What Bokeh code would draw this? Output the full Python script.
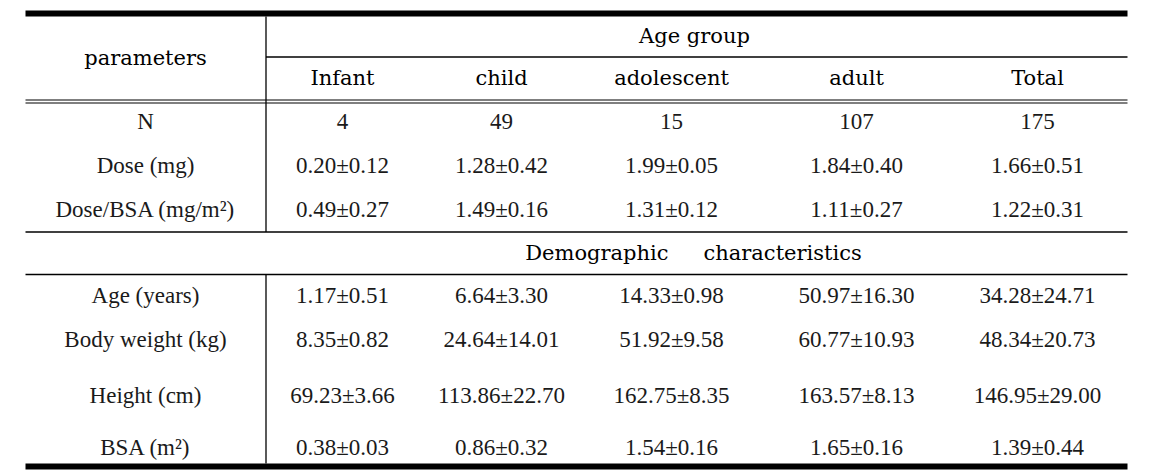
from bokeh.plotting import figure
from bokeh.models import Range1d, ColumnDataSource
from bokeh.core.properties import value
from bokeh.embed import file_html
from bokeh.resources import INLINE

# ---------------- data ----------------
title_params = "parameters"
title_groups = "Age group"
title_demo = ["Demographic", "characteristics"]
groups = ["Infant", "child", "adolescent", "adult", "Total"]

dose_labels = ["N", "Dose (mg)", "Dose/BSA (mg/m\u00b2)"]
n_counts = [4, 49, 15, 107, 175]
dose_mean = [0.20, 1.28, 1.99, 1.84, 1.66]
dose_sd = [0.12, 0.42, 0.05, 0.40, 0.51]
dose_bsa_mean = [0.49, 1.49, 1.31, 1.11, 1.22]
dose_bsa_sd = [0.27, 0.16, 0.12, 0.27, 0.31]

demo_labels = ["Age (years)", "Body weight (kg)", "Height (cm)", "BSA (m\u00b2)"]
age_mean = [1.17, 6.64, 14.33, 50.97, 34.28]
age_sd = [0.51, 3.30, 0.98, 16.30, 24.71]
weight_mean = [8.35, 24.64, 51.92, 60.77, 48.34]
weight_sd = [0.82, 14.01, 9.58, 10.93, 20.73]
height_mean = [69.23, 113.86, 162.75, 163.57, 146.95]
height_sd = [3.66, 22.70, 8.35, 8.13, 29.00]
bsa_mean = [0.38, 0.86, 1.54, 1.65, 1.39]
bsa_sd = [0.03, 0.32, 0.16, 0.16, 0.44]


def fmt(means, sds):
    return [f"{m:.2f}\u00b1{s:.2f}" for m, s in zip(means, sds)]


dose_rows = [[str(n) for n in n_counts], fmt(dose_mean, dose_sd), fmt(dose_bsa_mean, dose_bsa_sd)]
demo_rows = [fmt(age_mean, age_sd), fmt(weight_mean, weight_sd),
             fmt(height_mean, height_sd), fmt(bsa_mean, bsa_sd)]

# ---------------- layout (pixel coordinates) ----------------
W, H = 1139, 471
left, right, vsep = 25, 1127, 265.5
label_x = 145
col_x = [342, 501, 671, 856, 1037]
center_x = 694
demo_gap = (668, 703)
dy = -8  # renderer places alphabetic baseline lower than requested
dose_base = [b + dy for b in (129, 173, 217)]
demo_base = [b + dy for b in (303, 347, 403, 455)]
y_params, y_groups_title, y_groups, y_demo = 65 + dy, 43 + dy, 85 + dy, 260 + dy

p = figure(width=W, height=H, output_backend="svg", toolbar_location=None,
           x_range=Range1d(0, W), y_range=Range1d(H, 0),
           x_axis_type=None, y_axis_type=None, min_border=0)
p.outline_line_color = None
p.xgrid.visible = False
p.ygrid.visible = False
p.background_fill_color = "white"
p.border_fill_color = "white"

# rules
hl = ColumnDataSource(dict(
    x0=[left, vsep, left, left, left, left, left],
    x1=[right, right, right, right, right, right, right],
    y=[13, 56.5, 99.5, 102.5, 231.5, 274, 466],
    w=[6, 1.3, 1.2, 1.2, 1.3, 1.3, 6],
))
p.segment(x0="x0", y0="y", x1="x1", y1="y", line_width="w", line_color="black", source=hl)
vl = ColumnDataSource(dict(x=[vsep, vsep], y0=[16, 274], y1=[231.5, 463]))
p.segment(x0="x", y0="y0", x1="x", y1="y1", line_width=1.3, line_color="black", source=vl)

head_font = value("DejaVu Serif")
data_font = value("Liberation Serif")
hkw = dict(text_font=head_font, text_font_size="21px", text_baseline="alphabetic",
           text_color="black")

# headers
p.text(x=[label_x], y=[y_params], text=[title_params], text_align="center", **hkw)
p.text(x=[center_x], y=[y_groups_title], text=[title_groups], text_align="center", **hkw)
p.text(x=col_x, y=[y_groups] * len(groups), text=groups, text_align="center", **hkw)
p.text(x=[demo_gap[0]], y=[y_demo], text=[title_demo[0]], text_align="right", **hkw)
p.text(x=[demo_gap[1]], y=[y_demo], text=[title_demo[1]], text_align="left", **hkw)


# row labels and cells
def draw_rows(labels, rows, bases):
    xs, ys, ts = [], [], []
    for lab, row, b in zip(labels, rows, bases):
        xs.append(label_x); ys.append(b); ts.append(lab)
        for cx, t in zip(col_x, row):
            xs.append(cx); ys.append(b); ts.append(t)
    p.text(x=xs, y=ys, text=ts, text_font=data_font, text_font_size="23px",
           text_align="center", text_baseline="alphabetic", text_color="#1a1a1a")


draw_rows(dose_labels, dose_rows, dose_base)
draw_rows(demo_labels, demo_rows, demo_base)

open("out.html", "w").write(file_html(p, INLINE))
